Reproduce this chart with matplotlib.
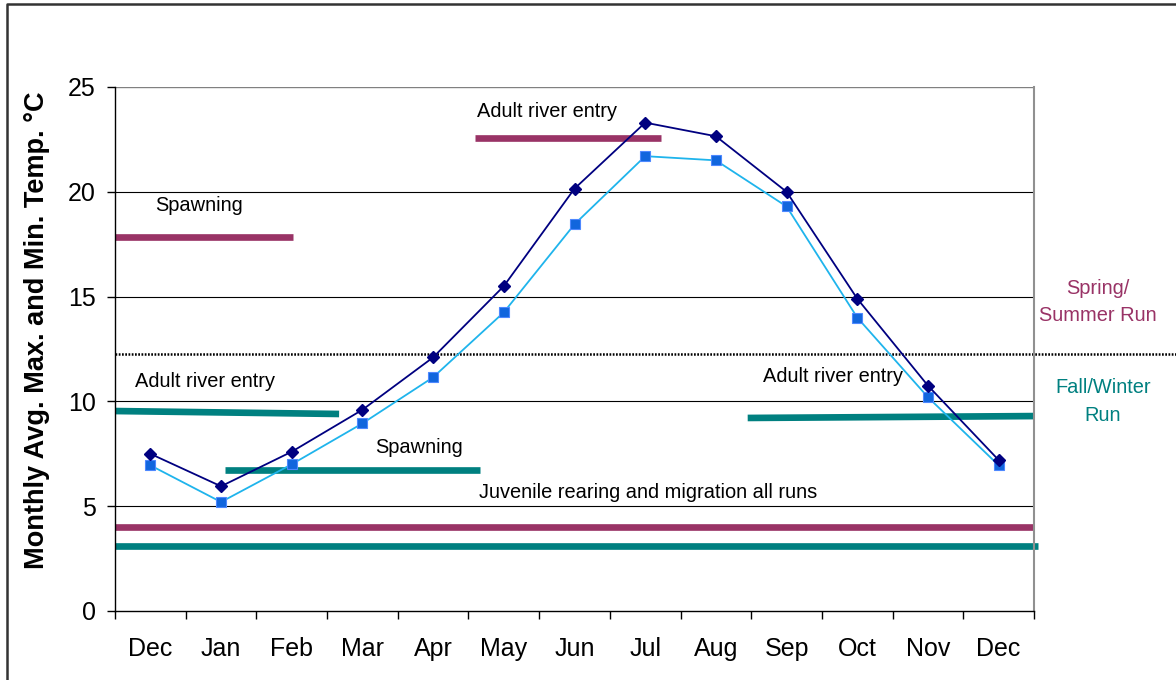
import numpy as np
import matplotlib
matplotlib.use("Agg")
import matplotlib.pyplot as plt
from matplotlib.lines import Line2D

plt.rcParams['font.family'] = ['Liberation Sans', 'DejaVu Sans']

# =========================
# Datos
# =========================

months = ["Dec", "Jan", "Feb", "Mar", "Apr", "May", "Jun",
          "Jul", "Aug", "Sep", "Oct", "Nov", "Dec"]

t_max = [7.5, 5.95, 7.6, 9.6, 12.1, 15.5, 20.15,
         23.3, 22.65, 20.0, 14.9, 10.75, 7.2]
t_min = [6.95, 5.2, 7.0, 8.95, 11.15, 14.25, 18.45,
         21.7, 21.5, 19.3, 14.0, 10.2, 6.95]

# life-stage periods: (x start, x end, y start, y end)
spring_spawn = (-0.5, 2.02, 17.85, 17.85)
spring_entry = (4.59, 7.22, 22.57, 22.57)
fall_entry_1 = (-0.49, 2.67, 9.54, 9.40)
fall_spawn = (1.06, 4.66, 6.73, 6.73)
fall_entry_2 = (8.45, 12.5, 9.21, 9.30)
juv_spring = (-0.5, 12.5, 4.0, 4.0)
juv_fall = (-0.5, 12.55, 3.1, 3.1)

run_split = 12.25

maroon = "#993366"
teal = "#008080"

# =========================
# Figura
# =========================

fig = plt.figure(figsize=(11.76, 6.8), dpi=100)
ax = fig.add_axes([115/1176, 1 - 611/680, (1034 - 115)/1176, (611 - 87)/680])

x = np.arange(len(months))

# gridlines
for yv in [5, 10, 15, 20]:
    ax.axhline(yv, color="black", lw=0.8, zorder=1)
ax.axhline(25, color="#808080", lw=1.0, zorder=1)

# periods
for seg, col in [(spring_spawn, maroon), (spring_entry, maroon),
                 (juv_spring, maroon), (fall_entry_1, teal),
                 (fall_spawn, teal), (fall_entry_2, teal), (juv_fall, teal)]:
    ax.plot([seg[0], seg[1]], [seg[2], seg[3]], color=col, lw=4.8,
            solid_capstyle="butt", zorder=2, clip_on=False)

# separador de corridas
ax.plot([-0.5, 15], [run_split, run_split], color="black", lw=1.8,
        ls=(0, (0.7, 0.6)), zorder=2, clip_on=False)

# series
ax.plot(x, t_min, color="#1FB4EC", lw=1.3, marker="s", ms=6.5,
        mfc="#1166DD", mec="#4D88FF", mew=0.8, zorder=4)
ax.plot(x, t_max, color="#000080", lw=1.3, marker="D", ms=6,
        mfc="#000080", mec="#000080", zorder=5)

# textos
fs = 14.4
ax.text(0.69, 19.37, "Spawning", ha="center", va="center", fontsize=fs)
ax.text(0.77, 10.97, "Adult river entry", ha="center", va="center", fontsize=fs)
ax.text(5.61, 23.85, "Adult river entry", ha="center", va="center", fontsize=fs)
ax.text(3.80, 7.78, "Spawning", ha="center", va="center", fontsize=fs)
ax.text(7.04, 5.63, "Juvenile rearing and migration all runs",
        ha="center", va="center", fontsize=fs)
ax.text(9.66, 11.21, "Adult river entry", ha="center", va="center", fontsize=fs)

fig.text(1098/1176, 1 - 302/680, "Spring/\nSummer Run", color=maroon,
         ha="center", va="center", fontsize=fs, linespacing=1.55)
fig.text(1103/1176, 1 - 401.5/680, "Fall/Winter\nRun", color=teal,
         ha="center", va="center", fontsize=fs, linespacing=1.55)

# ejes
ax.set_xlim(-0.5, 12.5)
ax.set_ylim(0, 25)
ax.set_xticks(x)
ax.set_xticklabels(months, fontsize=18)
ax.set_xticks(np.arange(-0.5, 13, 1), minor=True)
ax.tick_params(axis="x", which="major", length=0, pad=19)
ax.tick_params(axis="x", which="minor", length=6, width=1, direction="out")
ax.set_yticks([0, 5, 10, 15, 20, 25])
ax.tick_params(axis="y", length=6, width=1, direction="out", labelsize=18, pad=8)

ax.spines["top"].set_visible(False)
ax.spines["right"].set_color("#909090")
ax.spines["right"].set_linewidth(1.5)
ax.spines["left"].set_linewidth(1)
ax.spines["bottom"].set_linewidth(1)

fig.text(37/1176, 1 - 330/680, "Monthly Avg. Max. and Min. Temp. °C",
         rotation=90, ha="center", va="center", fontsize=19.5, fontweight="bold")

# marco
fig.add_artist(Line2D([7/1176, 7/1176, 1.0], [0, 1 - 4/680, 1 - 4/680],
                      transform=fig.transFigure, color="#333333", lw=1.8))

fig.savefig("out.png", dpi=100)
